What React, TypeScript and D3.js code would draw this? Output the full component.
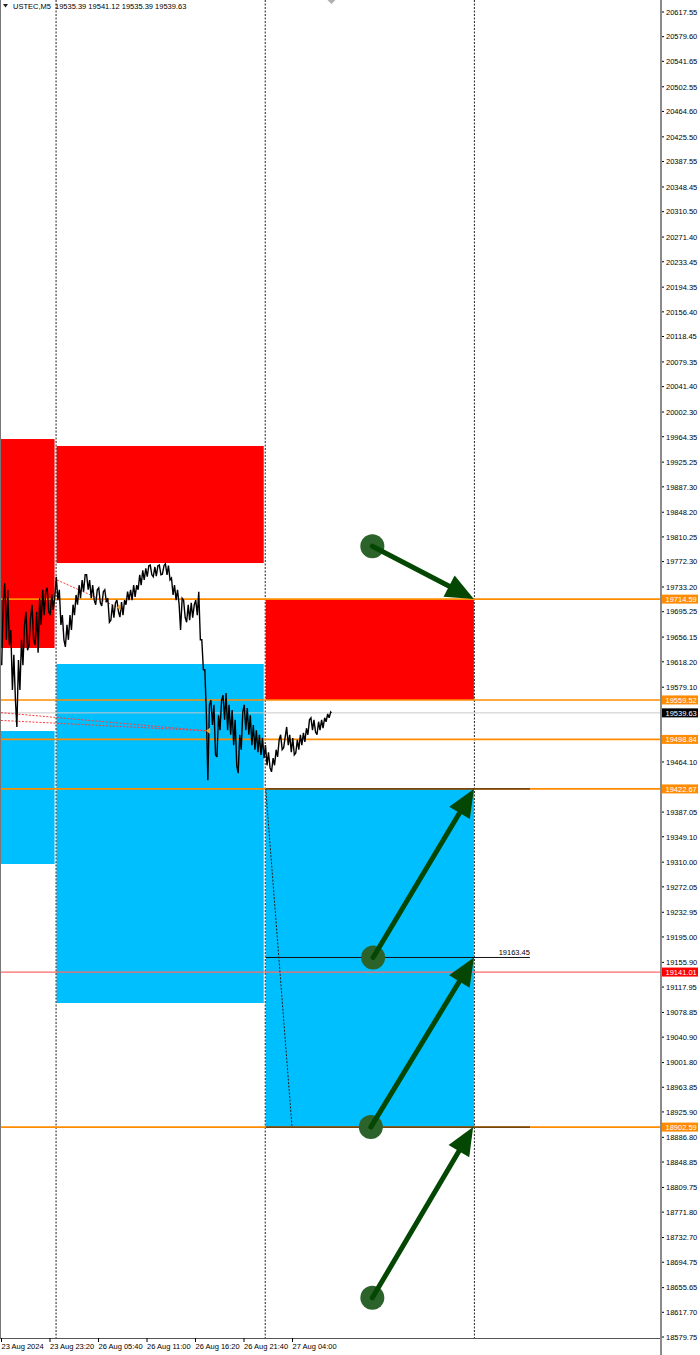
import React from "react";
import * as d3 from "d3";

// ---------- DATA ----------
const symbolHeader = "USTEC,M5";
const ohlcHeader = ["19535.39", "19541.12", "19535.39", "19539.63"];

const priceTicks = [
  20617.55, 20579.6, 20541.65, 20502.55, 20464.6, 20425.5, 20387.55, 20348.45, 20310.5,
  20271.4, 20233.45, 20194.35, 20156.4, 20118.45, 20079.35, 20041.4, 20002.3, 19964.35,
  19925.25, 19887.3, 19848.2, 19810.25, 19772.3, 19733.2, 19695.25, 19656.15, 19618.2,
  19579.1, 19464.1, 19387.05, 19349.1, 19310.0, 19272.05, 19232.95, 19195.0, 19155.9,
  19117.95, 19078.85, 19040.9, 19001.8, 18963.85, 18925.9, 18886.8, 18848.85, 18809.75,
  18771.8, 18732.7, 18694.75, 18655.65, 18617.7, 18579.75,
];

const timeLabels = ["23 Aug 2024", "23 Aug 23:20", "26 Aug 05:40", "26 Aug 11:00", "26 Aug 16:20", "26 Aug 21:40", "27 Aug 04:00"];
const timeLabelBars = [0, 64, 128, 192, 256, 320, 384];
const separatorBars = [72, 348, 624];

// 20-minute groups (4 x M5 bars) of high / low
const BARS_PER_GROUP = 4;
const groupHighs = [
  19713, 19739, 19729, 19667, 19629, 19621, 19652, 19675, 19695, 19686, 19706, 19695, 19716, 19729, 19726, 19732, 19722, 19719,
  19749, 19729, 19690, 19675, 19690, 19706, 19721, 19736, 19744, 19752, 19752, 19744, 19736, 19729, 19732, 19726, 19729, 19716,
  19706, 19709, 19713, 19710, 19713, 19726, 19729, 19736, 19736, 19752, 19759, 19762, 19766, 19767, 19764, 19766, 19767, 19766,
  19769, 19766, 19747, 19736, 19729, 19716, 19713, 19706, 19709, 19706, 19713, 19726, 19652, 19606, 19552, 19559, 19552, 19536,
  19559, 19567, 19570, 19552, 19544, 19529, 19506, 19541, 19552, 19547, 19536, 19521, 19513, 19506, 19501,
  19490, 19479, 19470, 19483, 19498, 19506, 19503, 19518, 19506, 19501, 19498, 19506, 19509, 19516, 19529, 19532, 19529, 19526,
  19529, 19532, 19538, 19541,
];
const groupLows = [
  19613, 19652, 19644, 19575, 19559, 19518, 19575, 19613, 19636, 19644, 19652, 19644, 19632, 19675, 19690, 19695, 19690, 19698,
  19713, 19675, 19652, 19641, 19652, 19667, 19690, 19706, 19716, 19726, 19729, 19716, 19713, 19706, 19709, 19704, 19710, 19679,
  19682, 19686, 19695, 19687, 19690, 19706, 19713, 19713, 19718, 19729, 19736, 19744, 19749, 19752, 19749, 19750, 19752, 19753,
  19752, 19744, 19721, 19713, 19706, 19667, 19686, 19679, 19682, 19686, 19690, 19652, 19606, 19536, 19436, 19521, 19475, 19472,
  19513, 19529, 19513, 19506, 19490, 19459, 19447, 19483, 19513, 19506, 19490, 19483, 19479, 19475, 19470,
  19459, 19455, 19449, 19459, 19472, 19483, 19486, 19490, 19479, 19475, 19478, 19483, 19490, 19495, 19506, 19513, 19510, 19506,
  19513, 19516, 19526, 19532,
];
const lastPrice = 19539.63;

const supplyZones = [
  { from: 0, to: 72, top: 19960.8, bottom: 19639.4 },
  { from: 72, to: 348, top: 19950.1, bottom: 19770.1 },
  { from: 348, to: 624, top: 19714.59, bottom: 19559.52 },
];
const demandZones = [
  { from: 0, to: 72, top: 19511.7, bottom: 19307.2 },
  { from: 72, to: 348, top: 19614.8, bottom: 19093.4 },
  { from: 348, to: 624, top: 19422.67, bottom: 18902.59 },
];
const orangeLevels = [19714.59, 19559.52, 19498.84, 19422.67, 18902.59];
const redLevel = 19141.01;

const trendSegments = [
  { from: 348, to: 698, price: 19422.67, label: "" },
  { from: 348, to: 698, price: 19163.45, label: "19163.45" },
  { from: 348, to: 698, price: 18902.59, label: "" },
];
const dottedDiagonal = { from: 348, p1: 19422.67, to: 384, p2: 18902.59 };

const historyLines = [
  { b1: 0, p1: 19540, b2: 272, p2: 19512 },
  { b1: 0, p1: 19528, b2: 272, p2: 19512 },
  { b1: 74, p1: 19744, b2: 154, p2: 19702 },
];

const arrows = [
  { fromBar: 490, fromPrice: 19796, toBar: 624, toPrice: 19714.59 },
  { fromBar: 491, fromPrice: 19163.45, toBar: 624, toPrice: 19422.67 },
  { fromBar: 488, fromPrice: 18902.59, toBar: 624, toPrice: 19163.45 },
  { fromBar: 490, fromPrice: 18640, toBar: 623, toPrice: 18902.59 },
];

// ---------- LAYOUT ----------
const W = 700;
const H = 1355;
const PLOT_LEFT = 1;
const PLOT_RIGHT = 661;
const PLOT_BOTTOM = 1338;
const FONT = "'Liberation Sans', Arial, sans-serif";

const x = d3.scaleLinear().domain([0, 624]).range([1, 473.9]);
const y = d3.scaleLinear().domain([18579.75, 20617.55]).range([1337, 12]);

function pricePath(): string {
  const pts: [number, number][] = [];
  const n = groupHighs.length;
  for (let i = 0; i < n; i++) {
    const cx = x(i * BARS_PER_GROUP + 2);
    const mid = (groupHighs[i] + groupLows[i]) / 2;
    const nextMid = i < n - 1 ? (groupHighs[i + 1] + groupLows[i + 1]) / 2 : lastPrice;
    const rising = nextMid > mid;
    const a = rising ? groupLows[i] : groupHighs[i];
    const b = rising ? groupHighs[i] : groupLows[i];
    pts.push([cx - 0.8, y(a)]);
    pts.push([cx + 0.8, y(b)]);
  }
  pts.push([x(n * BARS_PER_GROUP), y(lastPrice)]);
  return d3.line()(pts) || "";
}

function Arrow({ a }: { a: (typeof arrows)[number] }) {
  const sx = x(a.fromBar), sy = y(a.fromPrice);
  const ex = x(a.toBar), ey = y(a.toPrice);
  const dx = ex - sx, dy = ey - sy;
  const len = Math.hypot(dx, dy);
  const ux = dx / len, uy = dy / len;
  const nx = -uy, ny = ux;
  const L = 28, Wd = 12;
  const bx = ex - ux * L, by = ey - uy * L;
  const head = `${ex},${ey} ${bx + nx * Wd},${by + ny * Wd} ${bx - nx * Wd},${by - ny * Wd}`;
  return (
    <g>
      <circle cx={sx} cy={sy} r={12} fill="#2b632b" />
      <line x1={sx} y1={sy} x2={ex - ux * (L - 4)} y2={ey - uy * (L - 4)} stroke="#034703" strokeWidth={5} strokeLinecap="round" />
      <polygon points={head} fill="#034703" />
    </g>
  );
}

function AxisLabel({ price, bg, color }: { price: number; bg: string; color: string }) {
  const yy = y(price);
  return (
    <g>
      <rect x={662} y={yy - 4.5} width={36} height={9} fill={bg} />
      <text x={665.5} y={yy + 3} fontSize={7.5} fill={color} fontFamily={FONT}>
        {price.toFixed(2)}
      </text>
    </g>
  );
}

export default function App() {
  const zoneRect = (z: { from: number; to: number; top: number; bottom: number }, fill: string, key: string) => {
    const x0 = x(z.from) + (z.from > 0 ? 1 : 0);
    const x1 = x(z.to) - (z.to < 624 ? 1 : 0);
    return <rect key={key} x={x0} y={y(z.top)} width={x1 - x0} height={y(z.bottom) - y(z.top)} fill={fill} />;
  };

  return (
    <svg width={W} height={H} style={{ position: "absolute", left: 0, top: 0, background: "#fff" }} fontFamily={FONT}>
      <rect x={0} y={0} width={W} height={H} fill="#fff" />
      <defs>
        <clipPath id="plot">
          <rect x={PLOT_LEFT} y={0} width={PLOT_RIGHT - PLOT_LEFT} height={PLOT_BOTTOM} />
        </clipPath>
      </defs>

      <g clipPath="url(#plot)">
        {supplyZones.map((z, i) => zoneRect(z, "#ff0000", "s" + i))}
        {demandZones.map((z, i) => zoneRect(z, "#00bfff", "d" + i))}

        {separatorBars.map((b) => (
          <line key={b} x1={x(b) + 0.5} x2={x(b) + 0.5} y1={0} y2={PLOT_BOTTOM} stroke="#222" strokeWidth={1} strokeDasharray="2,1.5" />
        ))}

        <line x1={PLOT_LEFT} x2={PLOT_RIGHT} y1={y(lastPrice)} y2={y(lastPrice)} stroke="#c8c8c8" strokeWidth={1} />

        {orangeLevels.map((p) => (
          <line key={p} x1={PLOT_LEFT} x2={PLOT_RIGHT} y1={y(p)} y2={y(p)} stroke="#ff8c00" strokeWidth={1.6} />
        ))}
        <line x1={PLOT_LEFT} x2={PLOT_RIGHT} y1={y(redLevel)} y2={y(redLevel)} stroke="#ff6a6a" strokeWidth={1.2} />

        {trendSegments.map((t, i) => (
          <g key={i}>
            <line x1={x(t.from) + 1} x2={x(t.to)} y1={y(t.price)} y2={y(t.price)} stroke="#111" strokeWidth={1} />
            {t.label && (
              <text x={x(t.to)} y={y(t.price) - 2} fontSize={7.5} textAnchor="end" fill="#000">
                {t.label}
              </text>
            )}
          </g>
        ))}
        <line
          x1={x(dottedDiagonal.from) + 1}
          y1={y(dottedDiagonal.p1)}
          x2={x(dottedDiagonal.to)}
          y2={y(dottedDiagonal.p2)}
          stroke="#222"
          strokeWidth={1}
          strokeDasharray="2,1.5"
        />

        {historyLines.map((h, i) => (
          <line key={i} x1={x(h.b1)} y1={y(h.p1)} x2={x(h.b2)} y2={y(h.p2)} stroke="#ff3b3b" strokeWidth={1} strokeDasharray="2,1.5" />
        ))}

        <path d={pricePath()} fill="none" stroke="#000" strokeWidth={1.4} strokeLinejoin="miter" strokeMiterlimit={3} />

        {historyLines.map((h, i) => {
          const px = x(h.b2), py = y(h.p2);
          return <polygon key={"m" + i} points={`${px - 1},${py} ${px + 3},${py - 3} ${px + 3},${py + 3}`} fill="#f0a830" />;
        })}

        {arrows.map((a, i) => (
          <Arrow key={i} a={a} />
        ))}
      </g>

      <line x1={0.5} x2={0.5} y1={0} y2={PLOT_BOTTOM} stroke="#777" strokeWidth={1} />
      <line x1={0} x2={PLOT_RIGHT} y1={PLOT_BOTTOM + 0.5} y2={PLOT_BOTTOM + 0.5} stroke="#555" strokeWidth={1} />
      <line x1={PLOT_RIGHT} x2={PLOT_RIGHT} y1={0} y2={H} stroke="#8a8a8a" strokeWidth={2} />

      <polygon points={`${x(436) - 4},0 ${x(436) + 4},0 ${x(436)},4`} fill="#b0b0b0" />

      <polygon points="3,4 8,4 5.5,7.5" fill="#222" />
      <text x={13} y={9} fontSize={7.5} fill="#000">
        {symbolHeader}
      </text>
      <text x={55} y={9} fontSize={7.5} fill="#000">
        {ohlcHeader.join(" ")}
      </text>

      {priceTicks.map((p) => (
        <g key={p}>
          <line x1={662} x2={664} y1={y(p)} y2={y(p)} stroke="#000" strokeWidth={1} />
          <text x={666} y={y(p) + 2.8} fontSize={7.5} fill="#000">
            {p.toFixed(2)}
          </text>
        </g>
      ))}
      {orangeLevels.map((p) => (
        <AxisLabel key={p} price={p} bg="#ff8c00" color="#fff" />
      ))}
      <AxisLabel price={redLevel} bg="#ff0000" color="#fff" />
      <AxisLabel price={lastPrice} bg="#000" color="#fff" />

      {timeLabelBars.map((b, i) => (
        <g key={b}>
          <line x1={x(b) + 0.5} x2={x(b) + 0.5} y1={PLOT_BOTTOM} y2={PLOT_BOTTOM + 4} stroke="#000" strokeWidth={1} />
          <text x={x(b) + 0.5} y={1349} fontSize={7.5} fill="#000">
            {timeLabels[i]}
          </text>
        </g>
      ))}
    </svg>
  );
}
